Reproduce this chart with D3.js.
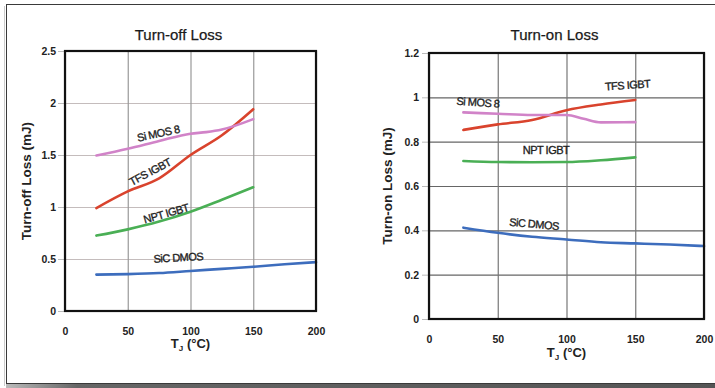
<!DOCTYPE html>
<html>
<head>
<meta charset="utf-8">
<script src="https://cdn.jsdelivr.net/npm/d3@7"></script>
<style>
  html, body { margin: 0; padding: 0; background: #fff; }
  svg { display: block; font-family: "Liberation Sans", Arial, sans-serif; }
</style>
</head>
<body>
<svg id="chart" width="715" height="388"></svg>
<script>
// Junction temperatures (°C) at which each curve is sampled
const tjShort = [25, 50, 75, 100, 125, 150];
const tjLong = [25, 50, 75, 100, 125, 150, 175, 200];
const tjSiMOS = [25, 50, 75, 100, 112.5, 125, 150];

// Turn-off loss (mJ)
const offSiC = [0.35, 0.355, 0.365, 0.385, 0.405, 0.425, 0.45, 0.47];
const offNPT = [0.725, 0.785, 0.86, 0.955, 1.07, 1.19];
const offTFS = [0.99, 1.15, 1.275, 1.5, 1.69, 1.94];
const offSiMOS = [1.495, 1.56, 1.635, 1.705, 1.72, 1.745, 1.845];

// Turn-on loss (mJ)
const onSiC = [0.412, 0.389, 0.371, 0.359, 0.346, 0.341, 0.336, 0.329];
const onNPT = [0.713, 0.708, 0.707, 0.708, 0.716, 0.729];
const onTFS = [0.853, 0.878, 0.898, 0.942, 0.968, 0.988];
const onSiMOS = [0.932, 0.926, 0.92, 0.92, 0.903, 0.887, 0.888];

// Axis ticks
const xTicks = [0, 50, 100, 150, 200];
const yTicksOff = [0, 0.5, 1, 1.5, 2, 2.5];
const yTicksOn = [0, 0.2, 0.4, 0.6, 0.8, 1, 1.2];

// Device names
const devices = ["SiC DMOS", "NPT IGBT", "TFS IGBT", "Si MOS 8"];
const colors = {"SiC DMOS": "#3d6dbd", "NPT IGBT": "#4aaf55", "TFS IGBT": "#d9432d", "Si MOS 8": "#d183c8"};

const svg = d3.select("#chart");

// Outer frame with a soft drop shadow
const defs = svg.append("defs");
const grad = defs.append("linearGradient").attr("id", "shadowGrad").attr("x1", 0).attr("x2", 1);
grad.append("stop").attr("offset", "0%").attr("stop-color", "#bbb");
grad.append("stop").attr("offset", "10%").attr("stop-color", "#666");
grad.append("stop").attr("offset", "100%").attr("stop-color", "#555");
svg.append("rect").attr("x", 6).attr("y", 384).attr("width", 709).attr("height", 4).attr("fill", "url(#shadowGrad)");
svg.append("line").attr("x1", 4.5).attr("x2", 4.5).attr("y1", 6).attr("y2", 386).attr("stroke", "#ccc");
svg.append("rect").attr("x", 6.5).attr("y", 4.5).attr("width", 720).attr("height", 379)
  .attr("fill", "#fff").attr("stroke", "#3a3a3a").attr("stroke-width", 1);

function drawPanel(p) {
  const x = d3.scaleLinear().domain([0, 200]).range([p.left, p.right]);
  const y = d3.scaleLinear().domain([0, p.yMax]).range([p.bottom, p.top]);
  const g = svg.append("g");
  const w = p.right - p.left, h = p.bottom - p.top;

  // horizontal gridlines
  g.append("g").attr("transform", `translate(${p.left},0)`)
    .call(d3.axisLeft(y).tickValues(p.yTicks).tickSize(-w).tickFormat(""))
    .call(s => s.select(".domain").remove())
    .call(s => s.selectAll("line").attr("stroke", p.hGrid).attr("stroke-width", 1.2));
  // vertical gridlines
  g.append("g").attr("transform", `translate(0,${p.bottom})`)
    .call(d3.axisBottom(x).tickValues(xTicks).tickSize(-h).tickFormat(""))
    .call(s => s.select(".domain").remove())
    .call(s => s.selectAll("line").attr("stroke", p.vGrid).attr("stroke-width", 1.2));

  // y tick labels with short outside ticks
  g.append("g").attr("transform", `translate(${p.left},0)`)
    .call(d3.axisLeft(y).tickValues(p.yTicks).tickSize(7).tickPadding(p.yPad).tickFormat(d3.format("")))
    .call(s => s.select(".domain").remove())
    .call(s => s.selectAll("line").attr("stroke", "#bbb"))
    .call(s => s.selectAll("text").attr("font-size", 10.5).attr("font-weight", "bold").attr("fill", "#222"));

  // x tick labels
  g.append("g").attr("transform", `translate(0,${p.bottom})`)
    .call(d3.axisBottom(x).tickValues(xTicks).tickSize(0).tickPadding(p.xPad).tickFormat(d3.format("")))
    .call(s => s.select(".domain").remove())
    .call(s => s.selectAll("text").attr("font-size", 10.5).attr("font-weight", "bold").attr("fill", "#222"));

  // curves
  const line = d3.line().x(d => x(d[0])).y(d => y(d[1])).curve(d3.curveMonotoneX);
  p.series.forEach(s => {
    g.append("path").datum(d3.zip(s.tj, s.values))
      .attr("d", line).attr("fill", "none")
      .attr("stroke", colors[s.name]).attr("stroke-width", 2.6)
      .attr("stroke-linecap", "round").attr("stroke-linejoin", "round");
  });

  // plot frame
  g.append("rect").attr("x", p.left).attr("y", p.top).attr("width", w).attr("height", h)
    .attr("fill", "none").attr("stroke", "#111").attr("stroke-width", 2.2);

  // curve labels
  p.series.forEach(s => {
    const lx = x(s.label[0]), ly = y(s.label[1]);
    g.append("text").attr("transform", `translate(${lx},${ly}) rotate(${s.label[2]})`)
      .attr("text-anchor", "middle").attr("dominant-baseline", "central")
      .attr("font-size", 11).attr("letter-spacing", -0.5).attr("fill", "#1e1e1e")
      .attr("stroke", "#1e1e1e").attr("stroke-width", 0.35)
      .text(s.name);
  });

  // titles
  const cx = (p.left + p.right) / 2;
  g.append("text").attr("x", cx - 12).attr("y", 40).attr("text-anchor", "middle")
    .attr("font-size", 15).attr("fill", "#1a1a1a")
    .attr("stroke", "#1a1a1a").attr("stroke-width", 0.25).text(p.title);
  g.append("text").attr("transform", `translate(${p.yLabelX},${(p.top + p.bottom) / 2}) rotate(-90)`)
    .attr("text-anchor", "middle").attr("dominant-baseline", "central")
    .attr("font-size", 13.5).attr("font-weight", "bold").attr("fill", "#222").text(p.yLabel);
  const xl = g.append("text").attr("x", cx).attr("y", p.xLabelY).attr("text-anchor", "middle")
    .attr("font-size", 13).attr("font-weight", "bold").attr("fill", "#222");
  xl.append("tspan").text("T");
  xl.append("tspan").attr("font-size", 8).attr("dy", 3).text("J");
  xl.append("tspan").attr("dy", -3).text(" (°C)");
}

drawPanel({
  title: "Turn-off Loss", yLabel: "Turn-off Loss (mJ)",
  left: 65, right: 316, top: 51, bottom: 311, yMax: 2.5, yTicks: yTicksOff,
  hGrid: "#c4bcbc", vGrid: "#999", yPad: 2, xPad: 17, yLabelX: 26, xLabelY: 348,
  series: [
    {name: devices[0], tj: tjLong, values: offSiC, label: [90.3, 0.516, -3]},
    {name: devices[1], tj: tjShort, values: offNPT, label: [80.5, 0.939, -16]},
    {name: devices[2], tj: tjShort, values: offTFS, label: [67.7, 1.339, -28]},
    {name: devices[3], tj: tjSiMOS, values: offSiMOS, label: [74.3, 1.709, -12]}
  ]
});

drawPanel({
  title: "Turn-on Loss", yLabel: "Turn-on Loss (mJ)",
  left: 429, right: 704, top: 53, bottom: 319, yMax: 1.2, yTicks: yTicksOn,
  hGrid: "#666", vGrid: "#777", yPad: 3, xPad: 17, yLabelX: 387, xLabelY: 357,
  series: [
    {name: devices[0], tj: tjLong, values: onSiC, label: [76.4, 0.429, 5]},
    {name: devices[1], tj: tjShort, values: onNPT, label: [85.1, 0.762, 0]},
    {name: devices[2], tj: tjShort, values: onTFS, label: [144.4, 1.056, -4]},
    {name: devices[3], tj: tjSiMOS, values: onSiMOS, label: [35.6, 0.978, 4]}
  ]
});
</script>
</body>
</html>
